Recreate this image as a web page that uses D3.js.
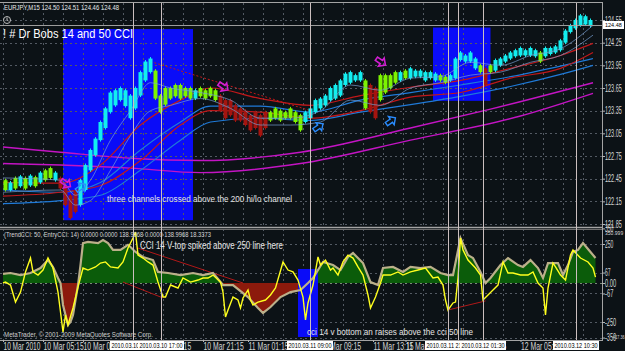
<!DOCTYPE html>
<html>
<head>
<meta charset="utf-8">
<script src="https://cdn.jsdelivr.net/npm/d3@7"></script>
<style>
	body { margin: 0; background: #0c1216; }
	svg { display: block; }
</style>
</head>
<body>
<div id="viz"></div>
<script>
const W = 625;
const H = 351;
const FONT = "'Liberation Sans', Arial, sans-serif";

// price axis
const priceTicks = [124.55, 124.25, 123.95, 123.65, 123.35, 123.05, 122.75, 122.45, 122.15, 121.85];
const lastPrice = 124.48;
const cciLevels = [350, 250, 67, 0, -67, -250, -350];

// candles, one entry per two M15 bars
const candleHi = [
	122.43, 122.40, 122.46, 122.48, 122.46, 122.49, 122.47, 122.53, 122.56, 122.59,
	122.53, 122.46, 122.36, 122.23, 122.30, 122.43, 122.63, 122.83, 122.98, 123.20,
	123.38, 123.59, 123.62, 123.65, 123.62, 123.55, 123.65, 123.86, 124.00, 124.04,
	123.88, 123.55, 123.65, 123.65, 123.69, 123.69, 123.65, 123.65, 123.62, 123.65,
	123.62, 123.65, 123.62, 123.55, 123.49, 123.49, 123.42, 123.38, 123.35, 123.29,
	123.33, 123.29, 123.33, 123.33, 123.38, 123.35, 123.33, 123.38, 123.33, 123.29,
	123.33, 123.38, 123.49, 123.51, 123.55, 123.65, 123.69, 123.75, 123.84, 123.86,
	123.82, 123.86, 123.75, 123.69, 123.65, 123.82, 123.82, 123.82, 123.86, 123.86,
	123.88, 123.91, 123.88, 123.88, 123.86, 123.86, 123.84, 123.82, 123.80, 123.82,
	124.04, 124.12, 124.08, 124.12, 124.04, 123.95, 123.91, 123.95, 124.02, 124.04,
	124.08, 124.12, 124.15, 124.18, 124.15, 124.18, 124.15, 124.12, 124.18, 124.18,
	124.20, 124.28, 124.41, 124.48, 124.55, 124.61, 124.60, 124.55
];
const candleLo = [
	122.30, 122.30, 122.32, 122.35, 122.32, 122.36, 122.35, 122.40, 122.43, 122.46,
	122.43, 122.32, 122.10, 121.93, 122.01, 122.10, 122.30, 122.56, 122.76, 122.96,
	123.12, 123.33, 123.42, 123.49, 123.41, 123.25, 123.38, 123.55, 123.75, 123.86,
	123.51, 123.33, 123.43, 123.51, 123.54, 123.51, 123.54, 123.51, 123.51, 123.54,
	123.51, 123.54, 123.49, 123.35, 123.25, 123.29, 123.22, 123.22, 123.16, 123.09,
	123.12, 123.02, 123.12, 123.22, 123.25, 123.22, 123.25, 123.25, 123.20, 123.09,
	123.20, 123.25, 123.33, 123.38, 123.42, 123.49, 123.51, 123.55, 123.69, 123.72,
	123.75, 123.75, 123.38, 123.33, 123.25, 123.49, 123.59, 123.65, 123.72, 123.75,
	123.78, 123.78, 123.80, 123.80, 123.75, 123.78, 123.75, 123.75, 123.72, 123.75,
	123.78, 124.02, 124.00, 124.00, 123.91, 123.86, 123.69, 123.86, 123.88, 123.95,
	124.00, 124.04, 124.07, 124.08, 124.08, 124.08, 124.07, 124.00, 124.07, 124.10,
	124.12, 124.15, 124.25, 124.39, 124.44, 124.48, 124.49, 124.47
];
const candleType = ('gcgcgcgcgg' + 'crrrrccccc' + 'cccccccccc' + 'ggggggggcg' + 'gggrrrrrrr' +
	'rrrggggggg' + 'cccccccccc' + 'ccgrrggggc' + 'gccccccggc' + 'cccccgrgcc' +
	'cccccccgcc' + 'cccccccc').split('');

// moving average channels [bar, price]
const redUpper = [[0,122.40],[23,122.39],[39,122.63],[55,123.16],[71,123.49],[83,123.65],[103,123.51],[123,123.42],[143,123.55],[163,123.66],[183,123.75],[203,123.91],[223,124.08],[236,124.24]];
const redLower = [[0,122.22],[23,122.27],[39,122.36],[55,122.69],[71,123.16],[83,123.35],[103,123.33],[123,123.25],[143,123.35],[163,123.53],[183,123.59],[203,123.78],[223,123.91],[236,124.12]];
const blueUpper = [[0,122.30],[23,122.27],[39,122.40],[55,122.83],[71,123.20],[83,123.41],[103,123.41],[123,123.33],[143,123.49],[163,123.59],[183,123.69],[203,123.80],[223,123.94],[236,124.04]];
const blueLower = [[0,122.12],[23,122.16],[39,122.23],[55,122.56],[71,122.96],[83,123.20],[103,123.25],[123,123.22],[143,123.33],[163,123.43],[183,123.54],[203,123.67],[223,123.83],[236,123.95]];
const fastUpper = [[0,122.46],[23,122.43],[29,122.23],[35,122.43],[43,122.96],[51,123.35],[59,123.72],[67,123.65],[79,123.59],[91,123.49],[103,123.25],[115,123.25],[127,123.35],[139,123.69],[151,123.62],[163,123.78],[175,123.80],[187,123.99],[199,123.95],[211,124.08],[223,124.17],[236,124.48]];
const fastLower = [[0,122.27],[23,122.30],[29,122.10],[35,122.16],[43,122.56],[51,123.02],[59,123.35],[67,123.42],[79,123.51],[91,123.38],[103,123.16],[115,123.16],[127,123.20],[139,123.49],[151,123.42],[163,123.65],[175,123.72],[187,123.82],[199,123.86],[211,123.99],[223,124.08],[236,124.35]];
const hiloUpper = [[0,122.87],[23,122.80],[51,122.72],[79,122.69],[119,122.80],[163,123.12],[195,123.37],[236,123.72]];
const hiloLower = [[0,122.65],[23,122.63],[51,122.59],[79,122.53],[119,122.65],[163,122.96],[207,123.28],[236,123.58]];
const priceTrend = [[59,124.00],[123,123.35]];

// signal arrows [bar, price]
const sellArrows = [[25,122.39],[88,123.67],[151,124.00]];
const buyArrows = [[31,122.33],[126,123.13],[155,123.21]];

// rectangles [bar0, bar1, price0, price1]
const priceZones = [[24, 76, 124.43, 121.90], [172, 195, 124.45, 123.48]];
const cciZones = [[118, 126, 90, -346]];

// CCI [bar, value]
const cci50 = [[0,58],[3,64],[7,51],[11,64],[15,96],[18,147],[20,103],[22,32],[23,0],[24,-141],[26,-269],[27,-250],[28,-205],[29,-109],[30,-13],[31,115],[32,256],[34,263],[38,256],[40,276],[42,256],[44,212],[47,212],[50,244],[51,231],[53,199],[56,167],[60,147],[62,71],[66,64],[71,51],[76,64],[80,51],[84,64],[87,6],[88,-13],[92,-13],[98,-90],[102,-160],[104,-192],[107,-154],[111,-90],[115,-58],[119,-45],[122,0],[124,32],[128,135],[132,115],[135,83],[138,167],[140,192],[144,128],[147,6],[150,-13],[152,96],[156,103],[160,71],[163,103],[167,96],[171,103],[175,64],[178,51],[180,51],[183,288],[186,179],[188,160],[191,71],[193,0],[195,32],[199,115],[202,160],[206,115],[208,103],[211,147],[214,96],[216,32],[218,128],[222,128],[224,51],[226,115],[228,199],[230,212],[232,256],[235,199],[237,160]];
const cci14 = [[0,0],[1,6],[3,-13],[5,-122],[7,-58],[9,71],[11,160],[12,71],[14,51],[16,83],[18,160],[20,96],[22,-58],[23,-186],[24,-314],[25,-205],[26,-269],[28,-160],[30,-26],[32,96],[34,83],[37,103],[39,128],[41,135],[43,103],[46,96],[48,135],[50,224],[52,288],[53,327],[54,179],[56,160],[58,135],[60,115],[62,6],[64,-90],[65,-90],[67,-13],[70,-32],[72,32],[75,6],[78,19],[80,32],[82,32],[84,51],[87,6],[88,-58],[89,-218],[90,-173],[92,-90],[94,-109],[95,-160],[96,-96],[98,-45],[99,-109],[100,-141],[102,-122],[105,-109],[107,-77],[109,-32],[112,135],[114,83],[116,71],[118,19],[120,-90],[121,-237],[122,-128],[124,-13],[126,167],[127,115],[129,147],[131,83],[132,96],[134,51],[136,135],[138,179],[140,160],[142,103],[144,51],[146,-77],[147,-160],[149,-90],[151,0],[152,51],[155,51],[158,71],[160,51],[163,71],[166,83],[169,96],[172,32],[174,38],[176,-13],[177,-109],[178,-173],[180,-128],[181,-122],[182,32],[183,288],[184,212],[186,147],[189,96],[191,51],[192,-109],[194,-77],[196,-45],[198,-13],[200,135],[202,64],[204,64],[207,51],[210,51],[212,71],[214,0],[216,-32],[217,-205],[218,-32],[220,128],[221,103],[223,51],[225,19],[227,179],[228,212],[231,160],[234,135],[236,96],[237,38]];
const cciTrends = [[[54,224],[96,0]], [[48,6],[64,-96]], [[178,-173],[193,-115]]];

// time axis
const timeLabels = [[0,'10 Mar 2010'],[16,'10 Mar 05:15'],[32,'10 Mar 09:15'],[59,'10 Mar 17:15'],[80,'10 Mar 21:15'],[98,'11 Mar 01:15'],[127,'11 Mar 09:15'],[148,'11 Mar 13:15'],[161,'11 Mar 17:15'],[185,'12 Mar 01:15'],[207,'12 Mar 05:15']];
const vLines = [[52,'2010.03.10 14:15'],[63,'2010.03.10 17:00'],[123,'2010.03.11 09:00'],[182,'2010.03.11 22:30'],[178,'2010.03.11 21:45'],[192,'2010.03.12 01:30'],[229,'2010.03.12 10:30']];

const COLORS = {
	bg: '#0c1216',
	grid: '#535a63',
	frame: '#a4a4a4',
	vline: '#cbbfbf',
	zone: '#0a0cf8',
	c: '#12eef0',
	g: '#7cf400',
	r: '#a5140f',
	magenta: '#c414c4',
	red: '#c0181a',
	blue: '#1f7ad8',
	fast: '#7aa2d6',
	cciUp: '#0b5c0a',
	cciDn: '#8c1a0c',
	cciLine: '#bcb08a',
	yellow: '#ffff1e',
	text: '#e4e4e4',
	label: '#d6d6d6'
};

const xScale = d3.scaleLinear().domain([0, 240]).range([3, 603]);
const yPrice = d3.scaleLinear().domain([121.85, 124.55]).range([224, 20]);
const yCci = d3.scaleLinear().domain([-350, 350]).range([337.6, 228.4]);

const svg = d3.select('#viz').append('svg')
	.attr('width', W)
	.attr('height', H)
	.style('font-family', FONT);

svg.append('rect')
	.attr('width', W)
	.attr('height', H)
	.attr('fill', COLORS.bg);

const defs = svg.append('defs');
defs.append('clipPath').attr('id', 'clip-main')
	.append('rect').attr('x', 0).attr('y', 3).attr('width', 602).attr('height', 224);
defs.append('clipPath').attr('id', 'clip-cci')
	.append('rect').attr('x', 0).attr('y', 229).attr('width', 602).attr('height', 111);
defs.append('clipPath').attr('id', 'clip-up')
	.append('rect').attr('x', 0).attr('y', 229).attr('width', 602).attr('height', yCci(0) - 229);
defs.append('clipPath').attr('id', 'clip-dn')
	.append('rect').attr('x', 0).attr('y', yCci(0)).attr('width', 602).attr('height', 340 - yCci(0));

const main = svg.append('g').attr('class', 'price-panel').attr('clip-path', 'url(#clip-main)');
const lower = svg.append('g').attr('class', 'cci-panel').attr('clip-path', 'url(#clip-cci)');

// ---- price panel ----
main.selectAll('.zone')
	.data(priceZones)
	.join('rect')
	.attr('class', 'zone')
	.attr('x', d => xScale(d[0]))
	.attr('y', d => yPrice(d[2]))
	.attr('width', d => xScale(d[1]) - xScale(d[0]))
	.attr('height', d => yPrice(d[3]) - yPrice(d[2]))
	.attr('fill', COLORS.zone);

const gridBars = d3.range(0, 241, 8);

main.append('g').selectAll('line')
	.data(gridBars)
	.join('line')
	.attr('x1', d => xScale(d) + 0.5)
	.attr('x2', d => xScale(d) + 0.5)
	.attr('y1', 3)
	.attr('y2', 227)
	.attr('stroke', COLORS.grid)
	.attr('stroke-dasharray', '2,3');

main.append('g').selectAll('line')
	.data(priceTicks)
	.join('line')
	.attr('x1', 0)
	.attr('x2', 602)
	.attr('y1', d => Math.round(yPrice(d)) + 0.5)
	.attr('y2', d => Math.round(yPrice(d)) + 0.5)
	.attr('stroke', COLORS.grid)
	.attr('stroke-dasharray', '2,3');

const priceLine = d3.line()
	.x(d => xScale(d[0]))
	.y(d => yPrice(d[1]))
	.curve(d3.curveMonotoneX);

const priceSeries = [
	[hiloUpper, COLORS.magenta, 1.4],
	[hiloLower, COLORS.magenta, 1.4],
	[blueLower, COLORS.blue, 1.2],
	[blueUpper, COLORS.blue, 1.2],
	[redLower, COLORS.red, 1.2],
	[redUpper, COLORS.red, 1.2]
];

main.append('g').selectAll('path')
	.data(priceSeries)
	.join('path')
	.attr('fill', 'none')
	.attr('stroke', d => d[1])
	.attr('stroke-width', d => d[2])
	.attr('d', d => priceLine(d[0]));

main.append('path')
	.attr('fill', 'none')
	.attr('stroke', COLORS.red)
	.attr('stroke-width', 1)
	.attr('stroke-dasharray', '2,2')
	.attr('d', d3.line().x(d => xScale(d[0])).y(d => yPrice(d[1]))(priceTrend));

// candles
const candles = main.append('g').attr('class', 'candles');
candles.selectAll('line')
	.data(candleHi)
	.join('line')
	.attr('x1', (d, i) => xScale(i * 2 + 1))
	.attr('x2', (d, i) => xScale(i * 2 + 1))
	.attr('y1', d => yPrice(d) - 1.5)
	.attr('y2', (d, i) => yPrice(candleLo[i]) + 1.5)
	.attr('stroke', (d, i) => COLORS[candleType[i]])
	.attr('stroke-width', 1);
candles.selectAll('rect')
	.data(candleHi)
	.join('rect')
	.attr('x', (d, i) => xScale(i * 2 + 1) - 2)
	.attr('y', d => yPrice(d))
	.attr('width', 4)
	.attr('height', (d, i) => Math.max(1, yPrice(candleLo[i]) - yPrice(d)))
	.attr('fill', (d, i) => COLORS[candleType[i]]);

main.append('g').selectAll('path')
	.data([fastUpper, fastLower])
	.join('path')
	.attr('fill', 'none')
	.attr('stroke', COLORS.fast)
	.attr('stroke-width', 0.8)
	.attr('stroke-opacity', 0.85)
	.attr('d', priceLine);

// signal arrows
const arrowPath = 'M-5,-2 L1,-2 L1,-5 L6,0 L1,5 L1,2 L-5,2 Z';
main.append('g').selectAll('path')
	.data(sellArrows)
	.join('path')
	.attr('d', arrowPath)
	.attr('transform', d => 'translate(' + xScale(d[0]) + ',' + yPrice(d[1]) + ') rotate(35)')
	.attr('fill', 'none')
	.attr('stroke', '#d21ed2')
	.attr('stroke-width', 1.6);
main.append('g').selectAll('path')
	.data(buyArrows)
	.join('path')
	.attr('d', arrowPath)
	.attr('transform', d => 'translate(' + xScale(d[0]) + ',' + yPrice(d[1]) + ') rotate(-35)')
	.attr('fill', 'none')
	.attr('stroke', '#2a8cff')
	.attr('stroke-width', 1.4);

// current price line
svg.append('line')
	.attr('x1', 0)
	.attr('x2', 602)
	.attr('y1', Math.round(yPrice(lastPrice)) + 0.5)
	.attr('y2', Math.round(yPrice(lastPrice)) + 0.5)
	.attr('stroke', '#9c9c9c');

// ---- CCI panel ----
lower.append('g').selectAll('line')
	.data(gridBars)
	.join('line')
	.attr('x1', d => xScale(d) + 0.5)
	.attr('x2', d => xScale(d) + 0.5)
	.attr('y1', 229)
	.attr('y2', 340)
	.attr('stroke', COLORS.grid)
	.attr('stroke-dasharray', '2,3');

lower.append('g').selectAll('line')
	.data(cciLevels)
	.join('line')
	.attr('x1', 0)
	.attr('x2', 602)
	.attr('y1', d => Math.round(yCci(d)) + 0.5)
	.attr('y2', d => Math.round(yCci(d)) + 0.5)
	.attr('stroke', d => d === 0 ? '#7a8a7a' : COLORS.grid)
	.attr('stroke-dasharray', '2,3');

const cciArea = d3.area()
	.x(d => xScale(d[0]))
	.y0(yCci(0))
	.y1(d => yCci(d[1]));

lower.append('path')
	.attr('clip-path', 'url(#clip-up)')
	.attr('fill', COLORS.cciUp)
	.attr('d', cciArea(cci50));
lower.append('path')
	.attr('clip-path', 'url(#clip-dn)')
	.attr('fill', COLORS.cciDn)
	.attr('d', cciArea(cci50));

lower.selectAll('.zone')
	.data(cciZones)
	.join('rect')
	.attr('class', 'zone')
	.attr('x', d => xScale(d[0]))
	.attr('y', d => yCci(d[2]))
	.attr('width', d => xScale(d[1]) - xScale(d[0]))
	.attr('height', d => yCci(d[3]) - yCci(d[2]))
	.attr('fill', COLORS.zone);

const cciLine = d3.line()
	.x(d => xScale(d[0]))
	.y(d => yCci(d[1]));

lower.append('g').selectAll('path')
	.data(cciTrends)
	.join('path')
	.attr('fill', 'none')
	.attr('stroke', '#b01818')
	.attr('stroke-width', 1)
	.attr('d', cciLine);

lower.append('path')
	.attr('fill', 'none')
	.attr('stroke', COLORS.cciLine)
	.attr('stroke-width', 2.2)
	.attr('d', cciLine(cci50));

lower.append('path')
	.attr('fill', 'none')
	.attr('stroke', COLORS.yellow)
	.attr('stroke-width', 1.4)
	.attr('d', cciLine(cci14));

// ---- frame ----
const frame = svg.append('g').attr('class', 'frame').attr('stroke', COLORS.frame);
frame.append('line').attr('x1', 0).attr('x2', 602).attr('y1', 2.5).attr('y2', 2.5);
frame.append('line').attr('x1', 602.5).attr('x2', 602.5).attr('y1', 2).attr('y2', 341);
frame.append('line').attr('x1', 0).attr('x2', 602).attr('y1', 227.5).attr('y2', 227.5).attr('stroke-width', 1.5);
frame.append('line').attr('x1', 0).attr('x2', 602).attr('y1', 229.5).attr('y2', 229.5).attr('stroke', '#6c6c6c');
frame.append('line').attr('x1', 0).attr('x2', 602).attr('y1', 340.5).attr('y2', 340.5);

// vertical object lines
svg.append('g').selectAll('line')
	.data(vLines)
	.join('line')
	.attr('x1', d => Math.round(xScale(d[0])) + 0.5)
	.attr('x2', d => Math.round(xScale(d[0])) + 0.5)
	.attr('y1', 3)
	.attr('y2', 340)
	.attr('stroke', COLORS.vline)
	.attr('stroke-width', 1);

// ---- axes ----
const squeeze = (sel, perChar) => sel
	.attr('textLength', function() { return this.textContent.length * perChar; })
	.attr('lengthAdjust', 'spacingAndGlyphs');

const priceAxis = svg.append('g')
	.attr('transform', 'translate(602,0)')
	.attr('font-size', 5.6)
	.attr('font-family', FONT)
	.call(d3.axisRight(yPrice).tickValues(priceTicks).tickSize(3).tickPadding(0).tickFormat(d3.format('.2f')));
priceAxis.select('.domain').remove();
priceAxis.selectAll('line').attr('stroke', '#b4b4b4');
priceAxis.selectAll('text').attr('fill', COLORS.label).call(squeeze, 2.8);

const cciAxis = svg.append('g')
	.attr('transform', 'translate(602,0)')
	.attr('font-size', 5.6)
	.attr('font-family', FONT)
	.call(d3.axisRight(yCci).tickValues(cciLevels).tickSize(3).tickPadding(0)
		.tickFormat(d => d === 0 ? '0.00' : String(d)));
cciAxis.select('.domain').remove();
cciAxis.selectAll('line').attr('stroke', '#b4b4b4');
cciAxis.selectAll('text').attr('fill', COLORS.label).call(squeeze, 2.8);

svg.append('text')
	.attr('x', 605)
	.attr('y', 235)
	.attr('font-size', 5.6)
	.attr('fill', COLORS.label)
	.text('350.999')
	.call(squeeze, 2.6);
svg.append('text')
	.attr('x', 612)
	.attr('y', 339)
	.attr('font-size', 5)
	.attr('fill', COLORS.label)
	.text('-417.36')
	.call(squeeze, 1.8);

// last price tag
const tag = svg.append('g').attr('transform', 'translate(603,' + Math.round(yPrice(lastPrice)) + ')');
tag.append('rect').attr('x', 0).attr('y', -4).attr('width', 21).attr('height', 8).attr('fill', '#ffffff');
tag.append('text').attr('x', 2).attr('y', 2.4).attr('font-size', 5.8).attr('fill', '#000')
	.text(lastPrice.toFixed(2)).call(squeeze, 2.8);

const timeAxis = svg.append('g')
	.attr('transform', 'translate(0,340)')
	.attr('font-size', 7)
	.attr('font-family', FONT)
	.call(d3.axisBottom(xScale).tickValues(timeLabels.map(d => d[0])).tickSize(2).tickPadding(1)
		.tickFormat((d, i) => timeLabels[i][1]));
timeAxis.select('.domain').remove();
timeAxis.selectAll('line').attr('stroke', '#b4b4b4');
timeAxis.selectAll('text').attr('fill', COLORS.label).attr('text-anchor', 'start').call(squeeze, 3.35);

const vTags = svg.append('g').selectAll('g')
	.data(vLines)
	.join('g')
	.attr('transform', d => 'translate(' + Math.round(xScale(d[0])) + ',341)');
vTags.append('rect')
	.attr('x', -23)
	.attr('y', 0)
	.attr('width', 46)
	.attr('height', 9)
	.attr('fill', '#ffffff');
vTags.append('text')
	.attr('x', 0)
	.attr('y', 7)
	.attr('text-anchor', 'middle')
	.attr('font-size', 6.8)
	.attr('fill', '#000')
	.text(d => d[1])
	.call(squeeze, 2.7);

// ---- texts ----
const texts = [
	['EURJPY,M15  124.50 124.51 124.46 124.48', 4, 9.5, 7, 115, '#e8e8e8'],
	['! # Dr Bobs 14 and 50 CCI', 3, 38, 13, 130, '#ffffff'],
	['three channels crossed above the 200 hi/lo channel', 107, 202, 8.5, 185, COLORS.text],
	['(TrendCCI: 50, EntryCCI: 14)  0.0000  0.0000  138.9968  0.0000  138.9968  18.3373', 4, 237, 6.6, 207, '#d8d8d8'],
	['CCI 14 V-top spiked above 250 line here', 140, 249, 10, 143, COLORS.text],
	['cci 14 v bottom an raises above the cci 50 line', 307, 335, 9.5, 166, COLORS.text],
	['MetaTrader, \u00a9 2001-2009 MetaQuotes Software Corp.', 4, 336.5, 7, 149, '#cfcfcf']
];

svg.append('g').selectAll('text')
	.data(texts)
	.join('text')
	.attr('x', d => d[1])
	.attr('y', d => d[2])
	.attr('font-size', d => d[3])
	.attr('textLength', d => d[4])
	.attr('lengthAdjust', 'spacingAndGlyphs')
	.attr('fill', d => d[5])
	.text(d => d[0]);

// clock icon
svg.append('circle')
	.attr('cx', 7)
	.attr('cy', 20)
	.attr('r', 3.5)
	.attr('fill', 'none')
	.attr('stroke', '#bdbdbd');
svg.append('path')
	.attr('d', 'M7,17.5 L7,20 L8.5,21')
	.attr('fill', 'none')
	.attr('stroke', '#bdbdbd');
</script>
</body>
</html>
